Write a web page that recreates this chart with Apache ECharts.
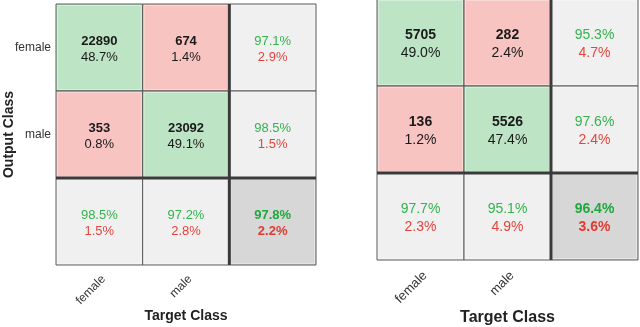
<!DOCTYPE html>
<html>
<head>
<meta charset="utf-8">
<script src="https://cdn.jsdelivr.net/npm/echarts@6/dist/echarts.min.js"></script>
<style>
  html, body { margin: 0; padding: 0; background: #fff; }
  #chart { width: 640px; height: 327px; }
</style>
</head>
<body>
<div id="chart"></div>
<script>
// categories
var targetLabels = ['female', 'male', ''];
var outputLabels = ['female', 'male', ''];

// left matrix (rows = output class, cols = target class)
var countsA = [[22890, 674], [353, 23092]];
var sharesA = [['48.7%', '1.4%'], ['0.8%', '49.1%']];
var rowRightA = ['97.1%', '98.5%'];
var rowWrongA = ['2.9%', '1.5%'];
var colRightA = ['98.5%', '97.2%'];
var colWrongA = ['1.5%', '2.8%'];
var totalA = ['97.8%', '2.2%'];

// right matrix
var countsB = [[5705, 282], [136, 5526]];
var sharesB = [['49.0%', '2.4%'], ['1.2%', '47.4%']];
var rowRightB = ['95.3%', '97.6%'];
var rowWrongB = ['4.7%', '2.4%'];
var colRightB = ['97.7%', '95.1%'];
var colWrongB = ['2.3%', '4.9%'];
var totalB = ['96.4%', '3.6%'];

var fillColor = {diag: '#bde5c5', off: '#f8c4c1', sum: '#f0f0f0', total: '#d7d7d7'};
var fontFam = '"Liberation Sans", Arial, sans-serif';

function buildCells(counts, shares, rowRight, rowWrong, colRight, colWrong, total) {
  var out = [];
  for (var r = 0; r < 2; r++) {
    for (var c = 0; c < 2; c++) {
      out.push({value: [c, r], kind: r === c ? 'diag' : 'off', top: String(counts[r][c]), bottom: shares[r][c]});
    }
    out.push({value: [2, r], kind: 'sum', top: rowRight[r], bottom: rowWrong[r]});
  }
  for (var k = 0; k < 2; k++) {
    out.push({value: [k, 2], kind: 'sum', top: colRight[k], bottom: colWrong[k]});
  }
  out.push({value: [2, 2], kind: 'total', top: total[0], bottom: total[1]});
  return out;
}

var cellsA = buildCells(countsA, sharesA, rowRightA, rowWrongA, colRightA, colWrongA, totalA);
var cellsB = buildCells(countsB, sharesB, rowRightB, rowWrongB, colRightB, colWrongB, totalB);

function makeRender(cells, fs, lh) {
  function st(color, bold) {
    return {fontSize: fs, fontFamily: fontFam, fontWeight: bold ? 'bold' : 'normal', fill: color, lineHeight: lh};
  }
  var rich = {
    b: st('#1a1a1a', true), n: st('#1a1a1a', false),
    g: st('#33b44e', false), r: st('#e4453c', false),
    gb: st('#1fa83e', true), rb: st('#e23a30', true)
  };
  return function (params, api) {
    var cell = cells[params.dataIndex];
    var x = api.value(0), y = api.value(1);
    var p = api.coord([x, y]);
    var s = api.size([1, 1]);
    var x0 = p[0] - s[0] / 2, y0 = p[1] - s[1] / 2;
    var txt;
    if (cell.kind === 'diag' || cell.kind === 'off') {
      txt = '{b|' + cell.top + '}\n{n|' + cell.bottom + '}';
    } else if (cell.kind === 'sum') {
      txt = '{g|' + cell.top + '}\n{r|' + cell.bottom + '}';
    } else {
      txt = '{gb|' + cell.top + '}\n{rb|' + cell.bottom + '}';
    }
    var children = [
      {type: 'rect', shape: {x: x0, y: y0, width: s[0], height: s[1]},
        style: {fill: fillColor[cell.kind], stroke: '#5a5a5a', lineWidth: 1}},
      {type: 'rect', shape: {x: x0 + 1.5, y: y0 + 1.5, width: s[0] - 3, height: s[1] - 3},
        style: {fill: 'none', stroke: 'rgba(255,255,255,0.35)', lineWidth: 1}},
      {type: 'text', style: {
        x: p[0], y: p[1] + 2, text: txt, align: 'center', verticalAlign: 'middle', rich: rich
      }}
    ];
    // thick separators in front of the summary row / column
    if (x === 2) {
      children.push({type: 'line', shape: {x1: x0, y1: y0, x2: x0, y2: y0 + s[1]},
        style: {stroke: '#3a3a3a', lineWidth: 3}});
    }
    if (y === 2) {
      children.push({type: 'line', shape: {x1: x0, y1: y0, x2: x0 + s[0], y2: y0},
        style: {stroke: '#3a3a3a', lineWidth: 3}});
    }
    return {type: 'group', children: children};
  };
}

var myChart = echarts.init(document.getElementById('chart'));
myChart.setOption({
  animation: false,
  grid: [
    {left: 56, top: 4, width: 260, height: 261, outerBoundsMode: 'none', containLabel: false},
    {left: 377, top: -1, width: 261, height: 261, outerBoundsMode: 'none', containLabel: false}
  ],
  xAxis: [
    {
      gridIndex: 0, type: 'category', data: targetLabels,
      axisLine: {show: false}, axisTick: {show: false}, splitLine: {show: false},
      axisLabel: {rotate: 45, margin: 8, verticalAlign: 'top', color: '#333', fontSize: 12, fontFamily: fontFam, interval: 0},
      name: 'Target Class', nameLocation: 'middle', nameGap: 44, nameMoveOverlap: false,
      nameTextStyle: {fontSize: 14, fontWeight: 'bold', color: '#222', fontFamily: fontFam}
    },
    {
      gridIndex: 1, type: 'category', data: targetLabels,
      axisLine: {show: false}, axisTick: {show: false}, splitLine: {show: false},
      axisLabel: {rotate: 45, margin: 9, verticalAlign: 'top', color: '#333', fontSize: 13, fontFamily: fontFam, interval: 0},
      name: 'Target Class', nameLocation: 'middle', nameGap: 50, nameMoveOverlap: false,
      nameTextStyle: {fontSize: 16, fontWeight: 'bold', color: '#222', fontFamily: fontFam}
    }
  ],
  yAxis: [
    {
      gridIndex: 0, type: 'category', data: outputLabels, inverse: true,
      axisLine: {show: false}, axisTick: {show: false}, splitLine: {show: false},
      axisLabel: {margin: 5, color: '#333', fontSize: 12, fontFamily: fontFam},
      name: 'Output Class', nameLocation: 'middle', nameGap: 40, nameMoveOverlap: false,
      nameTextStyle: {fontSize: 14, fontWeight: 'bold', color: '#222', fontFamily: fontFam}
    },
    {
      gridIndex: 1, type: 'category', data: outputLabels, inverse: true,
      axisLine: {show: false}, axisTick: {show: false}, splitLine: {show: false},
      axisLabel: {show: false}
    }
  ],
  series: [
    {
      type: 'custom', xAxisIndex: 0, yAxisIndex: 0, silent: true,
      renderItem: makeRender(cellsA, 13, 16), data: cellsA
    },
    {
      type: 'custom', xAxisIndex: 1, yAxisIndex: 1, silent: true,
      renderItem: makeRender(cellsB, 14, 18), data: cellsB
    }
  ]
});
</script>
</body>
</html>
